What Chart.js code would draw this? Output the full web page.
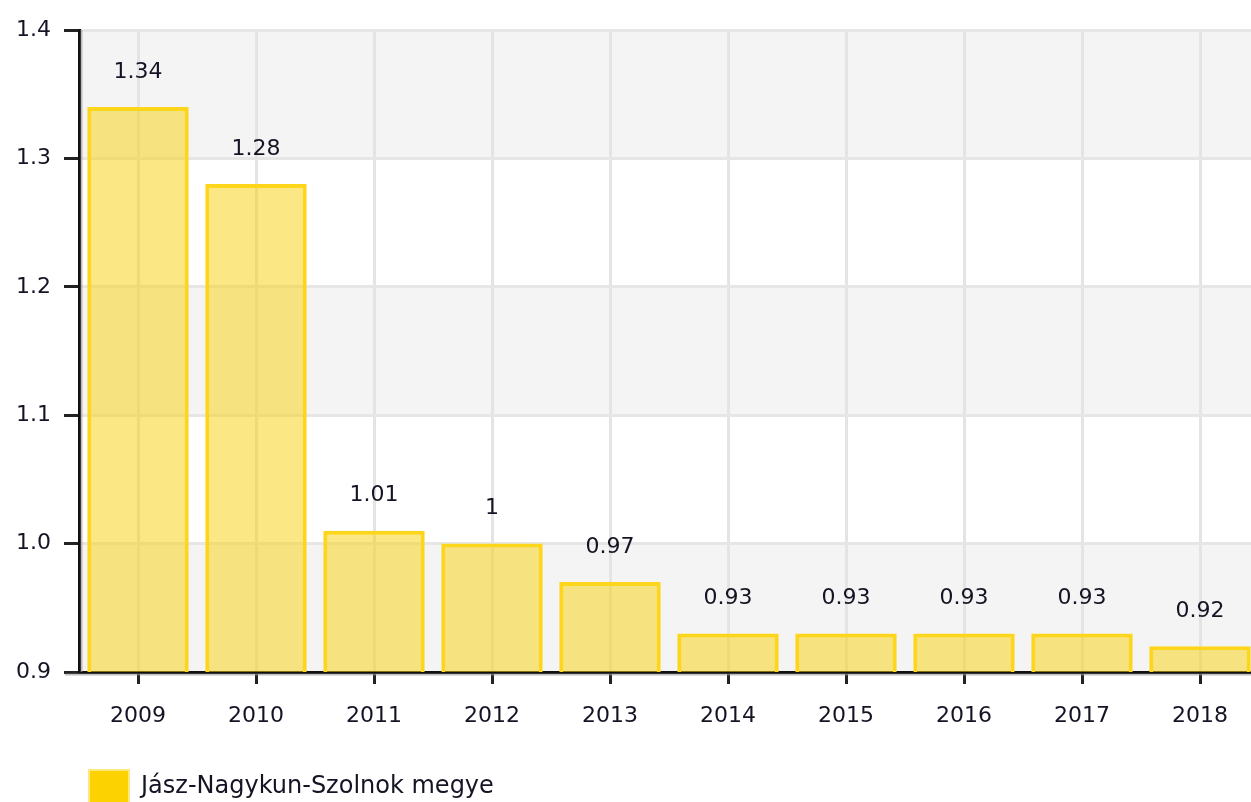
<!DOCTYPE html>
<html><head><meta charset="utf-8">
<script src="https://cdn.jsdelivr.net/npm/chart.js@4/dist/chart.umd.min.js"></script>
<style>html,body{margin:0;padding:0;background:#fff;overflow:hidden}#wrap{width:1262px;height:814px}</style>
</head><body><div id="wrap"><canvas id="c" width="1262" height="814"></canvas></div>
<script>
const years = ['2009','2010','2011','2012','2013','2014','2015','2016','2017','2018'];
const values = [1.34, 1.28, 1.01, 1, 0.97, 0.93, 0.93, 0.93, 0.93, 0.92];
const seriesName = 'Jász-Nagykun-Szolnok megye';
const yTicks = [0.9, 1.0, 1.1, 1.2, 1.3, 1.4];

const FONT = 'DejaVu Sans';
const TXT = '#141424';

const bandPlugin = {
  id: 'bands',
  beforeDraw(chart) {
    const {ctx, chartArea, scales: {y}} = chart;
    ctx.save();
    ctx.fillStyle = '#f4f4f4';
    for (let i = 0; i < yTicks.length - 1; i += 2) {
      const y1 = y.getPixelForValue(yTicks[i]);
      const y2 = y.getPixelForValue(yTicks[i + 1]);
      ctx.fillRect(chartArea.left, y2, chartArea.right - chartArea.left, y1 - y2);
    }
    ctx.restore();
  }
};

const labelPlugin = {
  id: 'vlabels',
  afterDatasetsDraw(chart) {
    const {ctx, chartArea} = chart;
    const meta = chart.getDatasetMeta(0);
    ctx.save();
    // axis shadow lines
    ctx.fillStyle = 'rgba(150,150,150,0.6)';
    ctx.fillRect(chartArea.left - 14, chartArea.bottom + 1.5, chartArea.right - chartArea.left + 14, 2);
    ctx.fillRect(chartArea.left + 1.5, chartArea.top, 2, chartArea.bottom - chartArea.top);
    ctx.font = '22px "' + FONT + '"';
    ctx.fillStyle = TXT;
    ctx.textAlign = 'center';
    ctx.textBaseline = 'middle';
    meta.data.forEach((bar, i) => {
      ctx.fillText(String(values[i]), bar.x, bar.y - 35);
    });
    ctx.restore();
  }
};

new Chart(document.getElementById('c'), {
  type: 'bar',
  data: {
    labels: years,
    datasets: [{
      label: seriesName,
      data: values,
      backgroundColor: 'rgba(248,210,10,0.5)',
      borderColor: '#fdd51a',
      borderWidth: 4,
      barPercentage: 0.86,
      categoryPercentage: 1.0
    }]
  },
  options: {
    responsive: false,
    devicePixelRatio: 1,
    animation: false,
    layout: {padding: {top: 30, right: 3, left: 0, bottom: 0}},
    plugins: {
      tooltip: {enabled: false},
      legend: {
        position: 'bottom',
        align: 'start',
        fullSize: false,
        labels: {
          boxWidth: 40,
          boxHeight: 34,
          color: TXT,
          font: {family: FONT, size: 24},
          generateLabels(chart) {
            const items = Chart.defaults.plugins.legend.labels.generateLabels(chart);
            items.forEach(it => { it.fillStyle = '#fcd300'; it.strokeStyle = '#fde880'; it.lineWidth = 2; });
            return items;
          }
        }
      }
    },
    scales: {
      x: {
        offset: true,
        grid: {offset: false, color: '#e4e4e4', lineWidth: 3, tickColor: '#222', tickLength: 12},
        border: {color: '#111', width: 3},
        ticks: {color: TXT, font: {family: FONT, size: 22}, padding: 19, maxRotation: 0},
        afterFit(s) { s.height = 88; }
      },
      y: {
        min: 0.9, max: 1.4,
        afterBuildTicks(s) { s.ticks = yTicks.map(v => ({value: v})); },
        grid: {color: '#e6e6e6', lineWidth: 3, tickColor: '#222', tickLength: 15},
        border: {color: '#111', width: 3},
        ticks: {color: TXT, font: {family: FONT, size: 22}, padding: 13, callback: v => Number(v).toFixed(1)},
        afterFit(s) { s.width = 79; }
      }
    }
  },
  plugins: [bandPlugin, labelPlugin]
});
</script>
</body></html>
